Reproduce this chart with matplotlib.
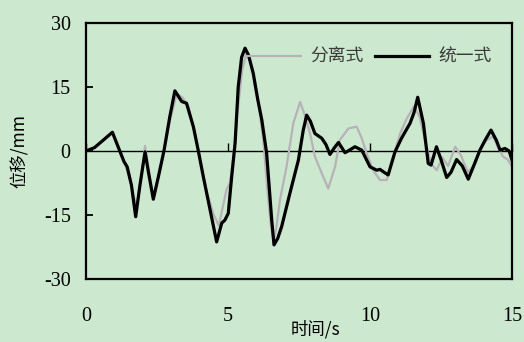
import matplotlib
matplotlib.use("Agg")
import matplotlib.pyplot as plt

# Time history of displacement (s, mm)
t_unified = [0, 0.3, 0.6, 0.93, 1.16, 1.34, 1.45, 1.6, 1.75, 1.9, 2.08, 2.2, 2.37,
             2.55, 2.75, 2.95, 3.13, 3.37, 3.54, 3.78, 3.95, 4.13, 4.37, 4.6, 4.78,
             4.89, 5.01, 5.13, 5.25, 5.36, 5.48, 5.6, 5.72, 5.89, 6.05, 6.19, 6.36,
             6.54, 6.62, 6.75, 6.89, 7.18, 7.48, 7.65, 7.77, 7.9, 8.06, 8.3, 8.45,
             8.59, 8.75, 8.89, 9.12, 9.3, 9.47, 9.71, 10.0, 10.24, 10.35, 10.5, 10.64,
             10.88, 11.11, 11.41, 11.55, 11.68, 11.88, 12.05, 12.15, 12.34, 12.5,
             12.7, 12.85, 13.05, 13.25, 13.46, 13.65, 13.87, 14.05, 14.26, 14.45,
             14.58, 14.75, 14.9, 15.0]
d_unified = [0, 0.8, 2.5, 4.4, 0.5, -2.5, -3.7, -8, -15.4, -8, -0.2, -5, -11.3,
             -6, 0.2, 8, 14.1, 11.6, 11.2, 5.7, 0.2, -6, -13.8, -21.3, -16.9,
             -16.2, -14.6, -6, 1.8, 15, 22, 24.1, 22.5, 18.2, 12, 7.3, -0.5,
             -16.2, -22.0, -20.5, -17.7, -9.9, -2.1, 4.9, 8.4, 7, 4.1, 3.0, 1.5,
             -0.8, 0.8, 2.0, -0.4, 0.3, 1.0, 0.2, -3.7, -4.5, -4.3, -5.0, -5.6,
             -0.2, 3.0, 6.5, 9.0, 12.6, 6.5, -2.9, -3.3, 1.0, -2.0,
             -6.2, -5.0, -2.0, -3.5, -6.6, -3.5, 0.2, 2.5, 4.9, 2.5,
             0.2, 0.6, 0.0, -2.1]

t_separate = [0, 0.3, 0.6, 0.93, 1.16, 1.4, 1.6, 1.78, 1.95, 2.08, 2.2, 2.38, 2.55,
              2.75, 2.95, 3.2, 3.4, 3.6, 3.85, 4.05, 4.25, 4.5, 4.68, 4.82, 4.95,
              5.07, 5.18, 5.35, 5.5, 5.65, 5.78, 5.95, 6.1, 6.25, 6.4, 6.5, 6.6,
              6.7, 6.83, 7.06, 7.3, 7.54, 7.7, 7.89, 8.06, 8.35, 8.53, 8.77, 8.94,
              9.24, 9.53, 9.71, 9.88, 10.11, 10.35, 10.59, 10.82, 11.06, 11.3, 11.55,
              11.75, 11.95, 12.15, 12.35, 12.55, 12.75, 13.0, 13.2, 13.45, 13.7,
              13.9, 14.1, 14.33, 14.5, 14.68, 14.85, 15.0]
d_separate = [0, 0.8, 2.5, 4.2, 0.5, -3.5, -8, -13.5, -6, 1.2, -4, -11, -6,
              0, 7, 13.5, 12.5, 10.5, 4, -3, -9.5, -15, -17.5, -13, -9,
              -7.5, -2, 10, 19, 23, 21.5, 15, 10, 2, -10, -17, -21,
              -18, -11.5, -3.7, 6.5, 11.5, 8.5, 4.1, -1.3, -6, -8.8, -3.7, 2.6,
              5.3, 5.7, 3.0, -0.5, -4.5, -6.8, -6.8, -1.3, 4.1, 7.7, 10.5,
              8, 2, -3, -4.5, -1.5, -3.5, 1.0, -1, -5, -3,
              0.5, 2.5, 3.4, 1, -1.3, -2, -3.7]

x_ticks = [0, 5, 10, 15]
y_ticks = [-30, -15, 0, 15, 30]
series_names = ["分离式", "统一式"]

plt.rcParams["axes.unicode_minus"] = False

bg = "#cce8cf"
serif = ["Liberation Serif", "DejaVu Serif"]
cjk = ["Noto Sans CJK SC", "Liberation Serif"]

fig = plt.figure(figsize=(5.24, 3.42), dpi=100, facecolor=bg)
ax = fig.add_axes([0.1641, 0.1842, 0.813, 0.7485], facecolor=bg)

ax.plot(t_separate, d_separate, color="#b7b2b7", lw=1.6, label=series_names[0], zorder=2)
ax.plot(t_unified, d_unified, color="black", lw=2.3, label=series_names[1], zorder=3)

ax.set_xlim(0, 15)
ax.set_ylim(-30, 30)
for sp in ax.spines.values():
    sp.set_linewidth(1.6)
    sp.set_color("black")

ax.set_xticks(x_ticks)
ax.set_yticks(y_ticks)
ax.tick_params(axis="x", length=0, pad=20, labelsize=14.5)
ax.tick_params(axis="y", direction="in", length=5, width=1.3, pad=11, labelsize=14.5)
for lab in ax.get_xticklabels() + ax.get_yticklabels():
    lab.set_fontfamily(serif)

# Zero line carrying the x tick marks (pointing upward)
zero_axis = ax.secondary_xaxis(0.5)
for sp in zero_axis.spines.values():
    sp.set_linewidth(1.0)
zero_axis.set_xticks(x_ticks, labels=[])
zero_axis.tick_params(direction="out", length=6, width=1.0,
                      labelbottom=False, labeltop=False)

ax.set_xlabel("时间/s", fontfamily=cjk, fontsize=12.5)
ax.xaxis.set_label_coords(0.538, -0.16)
ax.set_ylabel("位移/mm", fontfamily=cjk, fontsize=12.5)
ax.yaxis.set_label_coords(-0.135, 0.5)

leg = ax.legend(ncol=2, loc="upper right", bbox_to_anchor=(0.99, 0.965), frameon=False,
                handlelength=3.0, handletextpad=0.55, columnspacing=0.65,
                prop={"family": cjk, "size": 12.8})
for txt in leg.get_texts():
    txt.set_color("#3a3a3a")

fig.savefig("out.png", dpi=100, facecolor=bg)
